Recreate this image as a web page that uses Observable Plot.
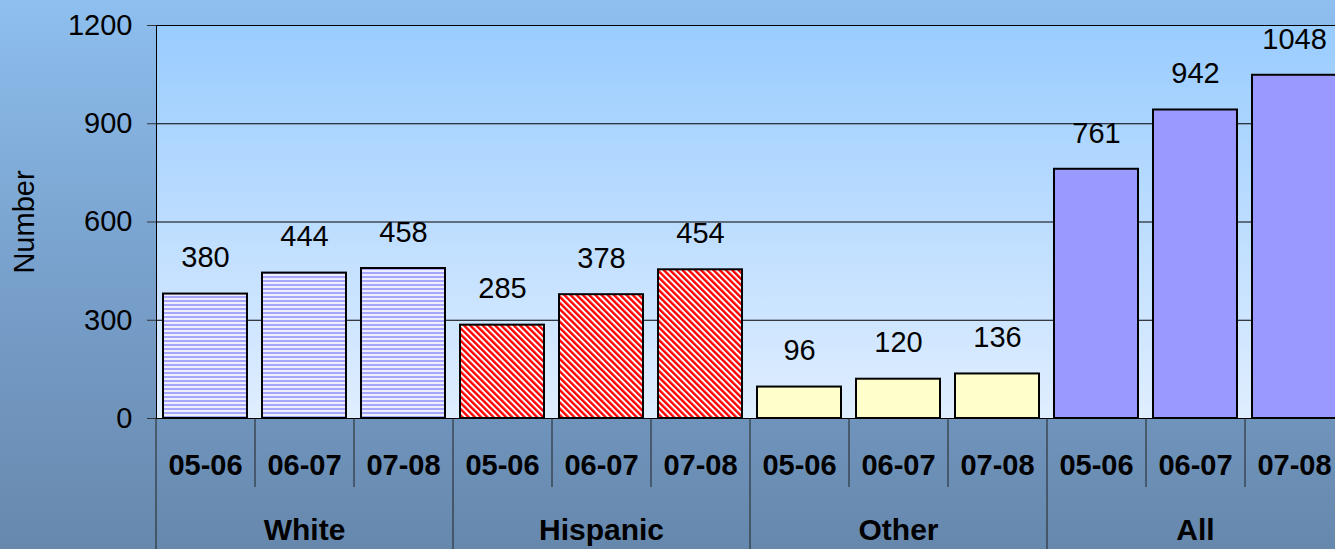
<!DOCTYPE html>
<html>
<head>
<meta charset="utf-8">
<script src="https://cdn.jsdelivr.net/npm/d3@7"></script>
<script src="https://cdn.jsdelivr.net/npm/@observablehq/plot@0.6"></script>
<style>
  html, body { margin: 0; padding: 0; overflow: hidden; }
  body {
    width: 1335px; height: 549px;
    background: linear-gradient(to bottom, #8ebfee 0%, #7aa3cf 45%, #6788ad 100%);
    font-family: "Liberation Sans", Arial, sans-serif;
  }
</style>
</head>
<body>
<div id="chart"></div>
<script>
// Enrolment counts by group and school year
const groups = ["White", "Hispanic", "Other", "All"];
const years = ["05-06", "06-07", "07-08"];
const whiteValues = [380, 444, 458];
const hispanicValues = [285, 378, 454];
const otherValues = [96, 120, 136];
const allValues = [761, 942, 1048];
const yTicks = [0, 300, 600, 900, 1200];

// Bar fills per group (patterns are defined in <defs> below)
const groupFills = ["url(#stripesH)", "url(#stripesD)", "#ffffcc", "#9999ff"];

const seriesValues = [whiteValues, hispanicValues, otherValues, allValues];
const rows = groups.flatMap((g, gi) =>
  years.map((yr, yi) => ({
    group: g, year: yr, yi, key: `${g} ${yr}`,
    value: seriesValues[gi][yi], fill: groupFills[gi]
  }))
);
const yearOf = new Map(rows.map(d => [d.key, d.year]));
const groupMid = groups.map(g => ({group: g, key: `${g} ${years[1]}`}));
const step = (1344 - 156) / rows.length;

const svg = Plot.plot({
  width: 1335,
  height: 549,
  marginTop: 25,
  marginBottom: 131,
  marginLeft: 156,
  marginRight: 0,
  style: {
    fontFamily: "'Liberation Sans', Arial, sans-serif",
    fontSize: "29px",
    background: "transparent",
    color: "black",
    overflow: "visible"
  },
  x: {domain: rows.map(d => d.key), range: [156, 1344], paddingInner: 0.15, paddingOuter: 0.075},
  y: {domain: [0, 1200]},
  color: {type: "identity"},
  marks: [
    Plot.frame({fill: "white", stroke: "none"}),
    Plot.gridY(yTicks, {stroke: "black", strokeOpacity: 1, strokeWidth: 1}),
    Plot.axisY(yTicks, {
      tickSize: 9, tickPadding: 15, stroke: "#333", tickFormat: d => String(d),
      label: "Number", labelAnchor: "center", labelArrow: "none", labelOffset: 143,
      fontSize: 29
    }),
    Plot.frame({anchor: "left", stroke: "black"}),
    Plot.barY(rows, {x: "key", y: "value", fill: "fill", stroke: "black", strokeWidth: 2}),
    Plot.text(rows, {x: "key", y: "value", text: d => String(d.value), dy: -36, fontSize: 29}),
    Plot.axisX({
      tickSize: 0, tickPadding: 36, fontWeight: "bold", fontSize: 29,
      tickFormat: k => yearOf.get(k), label: null
    }),
    // separators between school years (short) and between groups (full depth)
    Plot.ruleX(rows.filter(d => d.yi > 0), {x: "key", dx: -step / 2, stroke: "#222", insetTop: 393, insetBottom: -69}),
    Plot.ruleX(rows.filter(d => d.yi === 0), {x: "key", dx: -step / 2, stroke: "#222", insetTop: 393, insetBottom: -131}),
    Plot.text(groupMid, {x: "key", frameAnchor: "bottom", text: "group", dy: 121, fontWeight: "bold", fontSize: 30})
  ]
});

// Pattern and gradient definitions
const defs = d3.select(svg).insert("defs", ":first-child");
const grad = defs.append("linearGradient").attr("id", "plotBg")
  .attr("x1", 0).attr("y1", 0).attr("x2", 0).attr("y2", 1);
grad.append("stop").attr("offset", "0%").attr("stop-color", "#99ccff");
grad.append("stop").attr("offset", "100%").attr("stop-color", "#e0eeff");

const ph = defs.append("pattern").attr("id", "stripesH")
  .attr("patternUnits", "userSpaceOnUse").attr("width", 8).attr("height", 4);
ph.append("rect").attr("width", 8).attr("height", 4).attr("fill", "#eeeeff");
ph.append("rect").attr("width", 8).attr("height", 2).attr("fill", "#a6a6ff");

const pd = defs.append("pattern").attr("id", "stripesD")
  .attr("patternUnits", "userSpaceOnUse").attr("width", 4.4).attr("height", 8)
  .attr("patternTransform", "rotate(-45)");
pd.append("rect").attr("width", 4.4).attr("height", 8).attr("fill", "#ffffff");
pd.append("rect").attr("width", 2.4).attr("height", 8).attr("fill", "#ff0000");

const frameEl = d3.select(svg).select('[aria-label="frame"]');
frameEl.attr("fill", "url(#plotBg)");
frameEl.selectAll("rect").attr("fill", "url(#plotBg)");

document.getElementById("chart").appendChild(svg);
</script>
</body>
</html>
